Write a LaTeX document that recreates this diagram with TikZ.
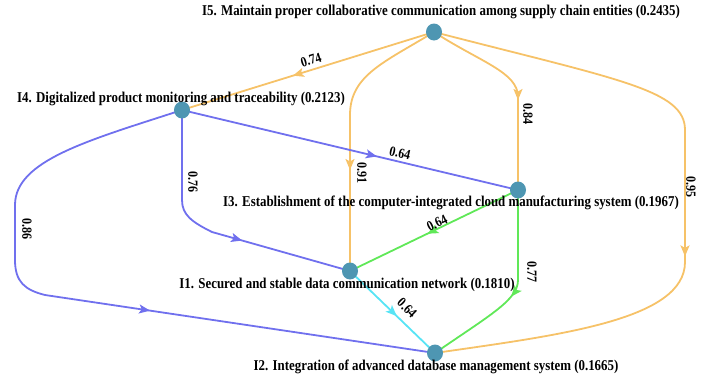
\documentclass[tikz,border=0pt]{standalone}
\usepackage{fontspec}
\setmainfont[FakeStretch=0.86]{Liberation Serif}
\usetikzlibrary{arrows.meta,decorations.markings,backgrounds,shapes.geometric}
\definecolor{eorange}{RGB}{246,194,104}
\definecolor{eblue}{RGB}{112,112,238}
\definecolor{egreen}{RGB}{96,232,88}
\definecolor{ecyan}{RGB}{88,228,245}
\definecolor{nodefill}{RGB}{78,150,178}
\tikzset{
 vtx/.style={ellipse, fill=nodefill, minimum width=16pt, minimum height=17pt, inner sep=0pt},
 lbl/.style={font=\fontsize{15}{17}\selectfont\bfseries, inner sep=0pt},
 wlbl/.style={font=\fontsize{14}{16}\selectfont\bfseries, inner sep=0pt},
 edge/.style={line width=1.8pt},
 midarrow/.style={postaction={decorate}, decoration={markings, mark=at position #1 with {\arrow{Stealth[length=11pt,width=9pt,inset=2.5pt]}}}},
}
\begin{document}
\begin{tikzpicture}[x=1pt,y=-1pt]
\useasboundingbox (0,0) rectangle (705,381);
% vertices
\node[vtx] (I5) at (434,32) {};
\node[vtx] (I4) at (182,110) {};
\node[vtx] (I3) at (518,190) {};
\node[vtx] (I1) at (350,271) {};
\node[vtx] (I2) at (435,353) {};
% vertex labels
\node[lbl] (L5) at (441,12) {I5. Maintain proper collaborative communication among supply chain entities (0.2435)};
\node[lbl] (L4) at (181,99) {I4. Digitalized product monitoring and traceability (0.2123)};
\node[lbl] (L3) at (451,203) {I3. Establishment of the computer-integrated cloud manufacturing system (0.1967)};
\node[lbl] (L1) at (347,285) {I1. Secured and stable data communication network (0.1810)};
\node[lbl] (L2) at (436,367) {I2. Integration of advanced database management system (0.1665)};
% edges
\begin{scope}[on background layer]
\draw[edge,eorange,midarrow=0.56] (I5.center) -- (I4.center);
\draw[edge,eorange,midarrow=-101pt] (I5.center) .. controls (385,62) and (350,75) .. (350,115) -- (I1.center);
\draw[edge,eorange,midarrow=-90pt] (I5.center) .. controls (480,62) and (518,72) .. (518,97) -- (I3.center);
\draw[edge,eorange,midarrow=-286pt] (I5.center) .. controls (620,80) and (685,90) .. (685,130) -- (685,262) .. controls (685,320) and (560,335) .. (I2.center);
\draw[edge,eblue,midarrow=0.58] (I4.center) -- (I3.center);
\draw[edge,eblue,midarrow=-112pt] (I4.center) -- (182,200) .. controls (182,215) and (192,222) .. (212,232) -- (I1.center);
\draw[edge,eblue,midarrow=-288pt] (I4.center) .. controls (90,140) and (15,160) .. (15,205) -- (15,260) .. controls (15,282) and (25,290) .. (45,295) -- (I2.center);
\draw[edge,egreen,midarrow=0.54] (I3.center) -- (I1.center);
\draw[edge,egreen,midarrow=-95pt] (I3.center) -- (518,280) .. controls (518,300) and (490,315) .. (I2.center);
\draw[edge,ecyan,midarrow=0.55] (I1.center) -- (I2.center);
\end{scope}
% edge weights
\node[wlbl, rotate=17] (w1) at (311,60) {0.74};
\node[wlbl, rotate=-90] (w2) at (362,173) {0.91};
\node[wlbl, rotate=-90] (w3) at (528,114) {0.84};
\node[wlbl, rotate=-90] (w4) at (691,187) {0.95};
\node[wlbl, rotate=-13] (w5) at (400,153) {0.64};
\node[wlbl, rotate=-90] (w6) at (193,182) {0.76};
\node[wlbl, rotate=-90] (w7) at (27,229) {0.86};
\node[wlbl, rotate=26] (w8) at (437,223) {0.64};
\node[wlbl, rotate=-90] (w9) at (532,272) {0.77};
\node[wlbl, rotate=-44] (w10) at (407,308) {0.64};
\end{tikzpicture}
\end{document}
